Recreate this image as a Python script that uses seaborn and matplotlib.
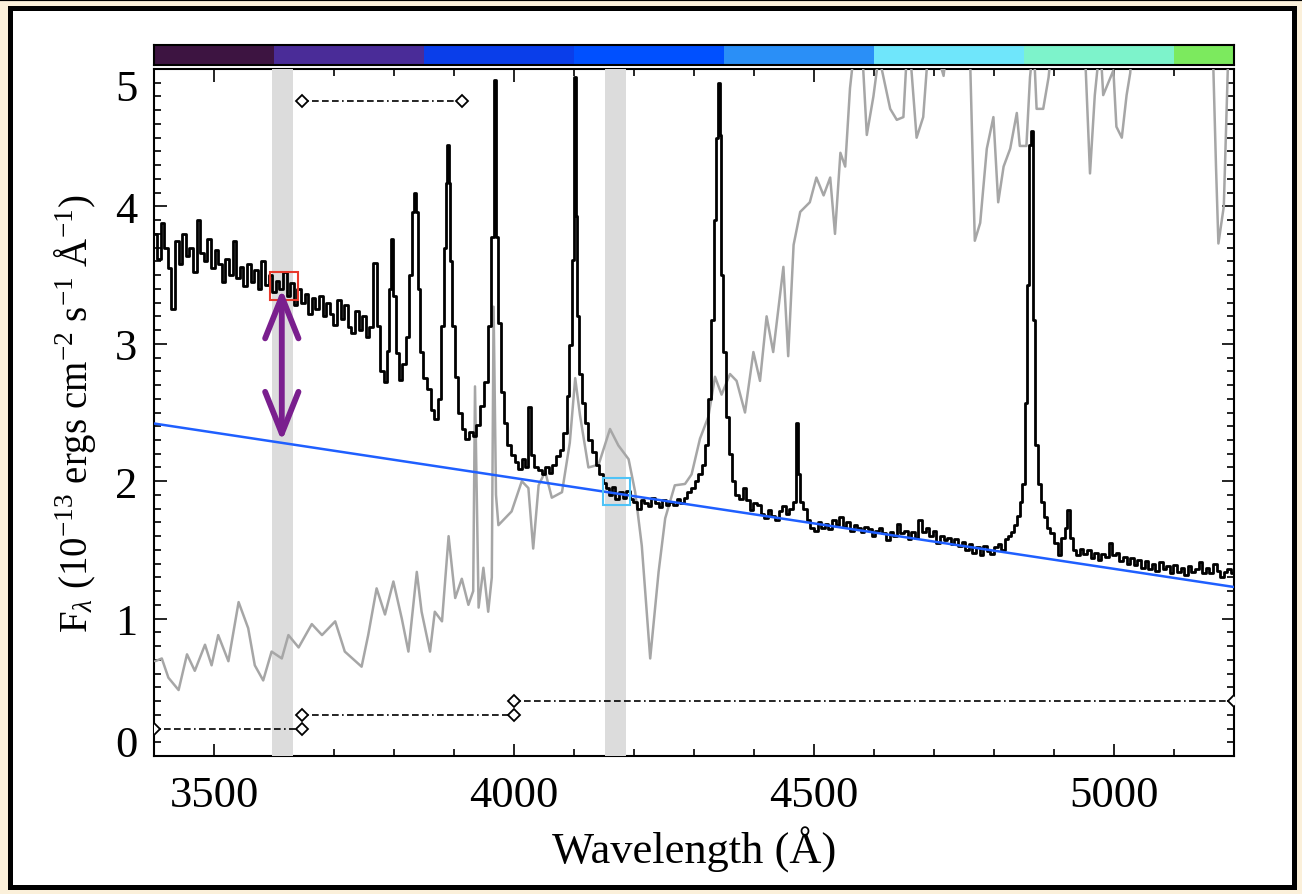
import pandas as pd
import seaborn as sns
import matplotlib.pyplot as plt
from matplotlib.patches import Rectangle
from matplotlib.lines import Line2D
from matplotlib.ticker import MultipleLocator

wave_obs = [3402, 3408, 3414, 3420, 3426, 3432, 3438, 3444, 3450, 3456, 3462, 3468, 3474, 3480, 3486, 3492,
            3498, 3504, 3510, 3516, 3522, 3528, 3534, 3540, 3546, 3552, 3558, 3564, 3570, 3576, 3582, 3588,
            3594, 3600, 3606, 3612, 3618, 3624, 3630, 3636, 3642, 3648, 3654, 3660, 3666, 3672, 3678, 3684,
            3690, 3696, 3702, 3708, 3714, 3720, 3726, 3732, 3738, 3744, 3750, 3756, 3762, 3768, 3774, 3780,
            3786, 3790, 3794, 3797, 3800, 3805, 3811, 3817, 3822, 3827, 3832, 3835, 3838, 3842, 3846, 3852,
            3858, 3864, 3870, 3876, 3881, 3885, 3888, 3890, 3892, 3895, 3899, 3904, 3910, 3916, 3922, 3928,
            3934, 3940, 3946, 3953, 3960, 3964, 3968, 3972, 3975, 3980, 3986, 3992, 3998, 4004, 4010, 4016,
            4021, 4026, 4031, 4037, 4043, 4049, 4055, 4061, 4067, 4073, 4079, 4085, 4090, 4094, 4098, 4101,
            4104, 4107, 4111, 4116, 4121, 4127, 4133, 4139, 4145, 4150, 4155, 4161, 4166, 4172, 4178, 4184,
            4190, 4196, 4202, 4208, 4214, 4220, 4226, 4232, 4238, 4244, 4250, 4256, 4262, 4268, 4274, 4280,
            4286, 4292, 4298, 4304, 4310, 4316, 4321, 4326, 4331, 4335, 4338, 4341, 4344, 4347, 4350, 4355,
            4361, 4366, 4372, 4378, 4384, 4390, 4396, 4402, 4408, 4414, 4420, 4426, 4432, 4438, 4444, 4450,
            4456, 4462, 4468, 4471, 4474, 4479, 4485, 4491, 4497, 4503, 4509, 4515, 4521, 4527, 4533, 4539,
            4545, 4551, 4557, 4563, 4569, 4575, 4581, 4587, 4593, 4599, 4605, 4611, 4617, 4623, 4629, 4635,
            4641, 4647, 4653, 4659, 4665, 4671, 4677, 4683, 4689, 4695, 4701, 4707, 4713, 4719, 4725, 4731,
            4737, 4743, 4749, 4755, 4761, 4767, 4773, 4779, 4785, 4791, 4797, 4803, 4809, 4815, 4820, 4825,
            4830, 4835, 4840, 4845, 4849, 4853, 4857, 4860, 4863, 4866, 4870, 4875, 4880, 4885, 4891, 4897,
            4903, 4909, 4915, 4920, 4924, 4928, 4934, 4940, 4946, 4952, 4958, 4964, 4970, 4976, 4982, 4988,
            4994, 5000, 5006, 5012, 5018, 5024, 5030, 5036, 5042, 5048, 5054, 5060, 5066, 5072, 5078, 5084,
            5090, 5096, 5102, 5108, 5114, 5120, 5126, 5132, 5138, 5144, 5150, 5156, 5162, 5168, 5174, 5180,
            5186, 5192, 5198]
flux_obs = [3.80, 3.62, 3.88, 3.70, 3.55, 3.25, 3.75, 3.58, 3.80, 3.64, 3.70, 3.52, 3.90, 3.66, 3.60, 3.76,
            3.55, 3.68, 3.58, 3.45, 3.62, 3.50, 3.75, 3.48, 3.56, 3.42, 3.58, 3.45, 3.54, 3.40, 3.60, 3.43,
            3.50, 3.38, 3.46, 3.40, 3.52, 3.35, 3.44, 3.28, 3.40, 3.30, 3.36, 3.22, 3.33, 3.25, 3.35, 3.20,
            3.30, 3.22, 3.14, 3.32, 3.18, 3.28, 3.12, 3.08, 3.24, 3.10, 3.20, 3.05, 3.12, 3.59, 3.13, 2.80,
            2.72, 2.95, 3.40, 3.76, 3.35, 2.93, 2.74, 2.85, 3.05, 3.50, 3.96, 4.10, 3.96, 3.40, 2.94, 2.75,
            2.67, 2.52, 2.45, 2.60, 3.13, 3.70, 4.17, 4.45, 4.17, 3.60, 3.13, 2.76, 2.50, 2.38, 2.31, 2.36,
            2.33, 2.41, 2.55, 2.72, 3.13, 3.78, 4.92, 3.78, 3.15, 2.65, 2.42, 2.26, 2.19, 2.14, 2.09, 2.16,
            2.10, 2.54, 2.19, 2.10, 2.08, 2.05, 2.10, 2.06, 2.12, 2.18, 2.23, 2.35, 2.62, 2.99, 3.61, 4.94,
            3.93, 3.20, 2.78, 2.57, 2.42, 2.30, 2.21, 2.12, 2.05, 1.99, 1.95, 1.90, 1.96, 1.87, 1.92, 1.88,
            1.93, 1.87, 1.85, 1.80, 1.86, 1.84, 1.82, 1.88, 1.84, 1.81, 1.86, 1.83, 1.85, 1.83, 1.87, 1.84,
            1.88, 1.92, 1.95, 2.00, 2.05, 2.12, 2.26, 2.60, 3.17, 3.90, 4.50, 4.90, 4.52, 3.50, 2.94, 2.47,
            2.20, 2.00, 1.90, 1.87, 1.95, 1.86, 1.79, 1.84, 1.83, 1.76, 1.73, 1.79, 1.75, 1.72, 1.78, 1.82,
            1.76, 1.80, 1.85, 2.42, 2.05, 1.85, 1.80, 1.72, 1.66, 1.64, 1.70, 1.66, 1.69, 1.65, 1.72, 1.68,
            1.74, 1.67, 1.70, 1.64, 1.68, 1.66, 1.63, 1.67, 1.65, 1.60, 1.64, 1.66, 1.62, 1.57, 1.63, 1.60,
            1.69, 1.62, 1.64, 1.58, 1.63, 1.59, 1.72, 1.63, 1.66, 1.60, 1.64, 1.55, 1.60, 1.57, 1.59, 1.54,
            1.58, 1.53, 1.56, 1.50, 1.54, 1.48, 1.52, 1.46, 1.53, 1.49, 1.47, 1.52, 1.54, 1.50, 1.58, 1.60,
            1.63, 1.68, 1.75, 1.85, 1.98, 2.57, 3.43, 4.45, 4.55, 3.17, 2.26, 1.98, 1.85, 1.74, 1.66, 1.62,
            1.55, 1.46, 1.59, 1.66, 1.79, 1.59, 1.50, 1.46, 1.51, 1.47, 1.50, 1.44, 1.48, 1.43, 1.47, 1.45,
            1.55, 1.46, 1.48, 1.42, 1.45, 1.40, 1.44, 1.39, 1.43, 1.37, 1.42, 1.36, 1.40, 1.35, 1.41, 1.36,
            1.38, 1.33, 1.39, 1.34, 1.37, 1.32, 1.38, 1.34, 1.36, 1.41, 1.33, 1.37, 1.33, 1.40, 1.35, 1.30,
            1.34, 1.36, 1.33]

# template spectrum (grey), values above 5 run off the top of the panel
wave_tpl = [3402, 3413, 3424, 3441, 3455, 3468, 3485, 3496, 3507, 3524, 3541, 3557, 3568, 3582, 3596, 3613,
            3624, 3641, 3663, 3680, 3702, 3718, 3746, 3757, 3771, 3785, 3799, 3813, 3824, 3838, 3846, 3860,
            3868, 3880, 3891, 3902, 3913, 3924, 3932, 3935, 3941, 3949, 3957, 3963, 3966, 3970, 3974, 3996,
            4013, 4024, 4032, 4041, 4052, 4063, 4080, 4093, 4102, 4110, 4124, 4141, 4160, 4174, 4191, 4202,
            4213, 4227, 4241, 4252, 4268, 4285, 4296, 4310, 4324, 4335, 4346, 4360, 4371, 4385, 4399, 4410,
            4421, 4432, 4449, 4457, 4466, 4477, 4493, 4504, 4516, 4527, 4535, 4544, 4552, 4560, 4566, 4577,
            4588, 4599, 4608, 4627, 4638, 4649, 4657, 4671, 4682, 4693, 4716, 4730, 4750, 4760, 4768, 4777,
            4788, 4799, 4807, 4816, 4827, 4838, 4843, 4854, 4860, 4866, 4871, 4882, 4891, 4899, 4930, 4950,
            4960, 4968, 4977, 4982, 4999, 5004, 5013, 5021, 5027, 5032, 5060, 5100, 5150, 5165, 5170, 5174,
            5183, 5191, 5200]
flux_tpl = [0.69, 0.71, 0.57, 0.48, 0.74, 0.62, 0.81, 0.66, 0.88, 0.69, 1.12, 0.93, 0.66, 0.55, 0.76, 0.71,
            0.88, 0.79, 0.96, 0.88, 0.98, 0.76, 0.65, 0.88, 1.22, 1.03, 1.27, 1.00, 0.76, 1.34, 1.05, 0.76,
            1.05, 0.98, 1.60, 1.15, 1.29, 1.10, 1.20, 2.69, 1.08, 1.37, 1.05, 1.30, 3.27, 1.90, 1.68, 1.78,
            2.00, 1.95, 1.51, 1.97, 2.07, 1.88, 1.92, 2.28, 2.75, 2.48, 2.10, 2.12, 2.38, 2.26, 2.16, 1.92,
            1.53, 0.71, 1.34, 1.73, 1.97, 1.98, 2.05, 2.31, 2.47, 2.76, 2.63, 2.78, 2.73, 2.50, 2.94, 2.73,
            3.20, 2.94, 3.56, 2.91, 3.72, 3.96, 4.03, 4.21, 4.08, 4.21, 3.80, 4.39, 4.29, 4.86, 5.10, 5.40,
            4.52, 4.80, 5.10, 4.71, 4.63, 4.65, 5.30, 4.50, 4.65, 5.30, 4.95, 5.50, 5.40, 5.10, 3.75, 3.88,
            4.42, 4.65, 4.03, 4.29, 4.42, 4.68, 4.44, 4.44, 4.94, 5.20, 4.71, 4.71, 4.94, 5.30, 5.50, 5.30,
            4.24, 4.81, 5.20, 4.81, 4.99, 4.58, 4.50, 4.81, 4.97, 5.30, 5.60, 5.50, 5.40, 5.10, 4.29, 3.73,
            4.00, 5.20, 5.50]

# straight continuum (blue)
wave_cont = [3400, 5200]
flux_cont = [2.42, 1.23]

# colour strip across the top
strip_edges = [3400, 3600, 3850, 4100, 4350, 4600, 4850, 5100, 5200]
strip_colors = ['#3d1441', '#4a2c98', '#0a3eea', '#0050ff', '#2a8ff7', '#6fe6fb', '#7df3cb', '#7cea5e']

# grey measurement windows
win_lo = [3597, 4152]
win_hi = [3632, 4187]

# dash-dot bands with diamond ends
seg_start = [3400, 3646, 4000, 3646]
seg_end = [3646, 4000, 5200, 3914]
seg_level = [0.2, 0.3, 0.4, 4.77]

W, H = 1302, 895
sns.set_theme(style='ticks')
plt.rcParams['font.family'] = ['Liberation Serif', 'DejaVu Serif']
plt.rcParams['mathtext.fontset'] = 'custom'
plt.rcParams['mathtext.rm'] = 'Liberation Serif'
plt.rcParams['mathtext.it'] = 'Liberation Serif:italic'

fig = plt.figure(figsize=(W / 100, H / 100), dpi=100)
fig.patch.set_facecolor('#fbf0da')
fig.add_artist(Rectangle((9.5 / W, 1 - 888 / H), (1294 - 9.5) / W, (888 - 9) / H,
                         transform=fig.transFigure, facecolor='white', edgecolor='black',
                         lw=3.6, zorder=-1))
fig.add_artist(Line2D([0, 1], [1, 1], transform=fig.transFigure, color='black', lw=3))

ax = fig.add_axes([154 / W, 1 - 757 / H, 1080 / W, 687 / H])
ax.set_facecolor('white')

obs = pd.DataFrame({'wave': wave_obs, 'flux': flux_obs})
tpl = pd.DataFrame({'wave': wave_tpl, 'flux': flux_tpl})
cont = pd.DataFrame({'wave': wave_cont, 'flux': flux_cont})

for lo, hi in zip(win_lo, win_hi):
    ax.axvspan(lo, hi, color='#dcdcdc', lw=0, zorder=3)

sns.lineplot(data=tpl, x='wave', y='flux', ax=ax, color='#a6a6a6', lw=1.8,
             estimator=None, sort=False, zorder=4)
sns.lineplot(data=obs, x='wave', y='flux', ax=ax, color='black', lw=2.0,
             estimator=None, sort=False, drawstyle='steps-mid', zorder=5)
sns.lineplot(data=cont, x='wave', y='flux', ax=ax, color='#1f5fff', lw=1.8,
             estimator=None, sort=False, zorder=6)

dash = (0, (4, 2, 4, 2, 4, 2, 4, 2, 1, 2))
for s, e, lev in zip(seg_start, seg_end, seg_level):
    ax.plot([s, e], [lev, lev], color='black', lw=1.2, linestyle=dash, zorder=6)
    ax.plot([s, e], [lev, lev], linestyle='none', marker='D', ms=6, mfc='white',
            mec='black', mew=1.3, zorder=7)

# boxes marking the two flux samples and the jump arrow
ax.add_patch(Rectangle((3593, 3.32), 47, 0.20, fill=False, edgecolor='#e8382a', lw=1.5, zorder=8))
ax.add_patch(Rectangle((4148, 1.83), 45, 0.19, fill=False, edgecolor='#4fc3f7', lw=1.5, zorder=8))
ax.annotate('', xy=(3613, 2.29), xytext=(3613, 3.40),
            arrowprops=dict(arrowstyle='<->, head_length=3.0, head_width=1.2', mutation_scale=10,
                            color='#7a1f8e', lw=4.2, capstyle='round', joinstyle='round',
                            shrinkA=0, shrinkB=0), zorder=9)

ax.set_xlim(3400, 5200)
ax.set_ylim(0, 5)
ax.xaxis.set_major_locator(MultipleLocator(500))
ax.xaxis.set_minor_locator(MultipleLocator(100))
ax.set_yticks([0, 1, 2, 3, 4, 5])
ax.yaxis.set_minor_locator(MultipleLocator(0.1))
ax.tick_params(which='both', direction='in', top=True, right=True, color='black', width=1.2,
               labelsize=32, labelcolor='black')
ax.tick_params(which='major', length=9)
ax.tick_params(which='minor', length=5)
ax.tick_params(axis='x', pad=14)
ax.tick_params(axis='y', pad=12)
ylabels = ax.get_yticklabels()
ylabels[0].set_va('baseline')
ylabels[-1].set_va('top')
for sp in ax.spines.values():
    sp.set_color('black')
    sp.set_linewidth(1.5)

ax.set_xlabel('Wavelength (Å)', fontsize=32, color='black')
ax.set_ylabel(r'F$_\lambda$ (10$^{-13}$ ergs cm$^{-2}$ s$^{-1}$ Å$^{-1}$)', fontsize=28, color='black')
ax.xaxis.set_label_coords(0.5, -0.135)
ax.xaxis.label.set_va('center')
ax.yaxis.set_label_coords(-0.073, 0.5)
ax.yaxis.label.set_va('center')

# colour strip
cb = fig.add_axes([154 / W, 1 - 66 / H, 1080 / W, 20 / H])
for lo, hi, c in zip(strip_edges[:-1], strip_edges[1:], strip_colors):
    cb.axvspan(lo, hi, color=c, lw=0)
cb.set_xlim(3400, 5200)
cb.set_ylim(0, 1)
cb.set_yticks([])
cb.set_xticks([3555, 3855, 4155, 4455, 4755, 5055])
cb.tick_params(axis='x', direction='in', length=4, width=1, color='black', labelbottom=False)
top = cb.secondary_xaxis('top')
top.set_xticks([3705, 4005, 4305, 4605, 4905])
top.tick_params(axis='x', direction='in', length=4, width=1, color='black', labeltop=False)
for sp in cb.spines.values():
    sp.set_color('black')
    sp.set_linewidth(1.5)

fig.savefig('out.png', dpi=100, facecolor=fig.get_facecolor())
